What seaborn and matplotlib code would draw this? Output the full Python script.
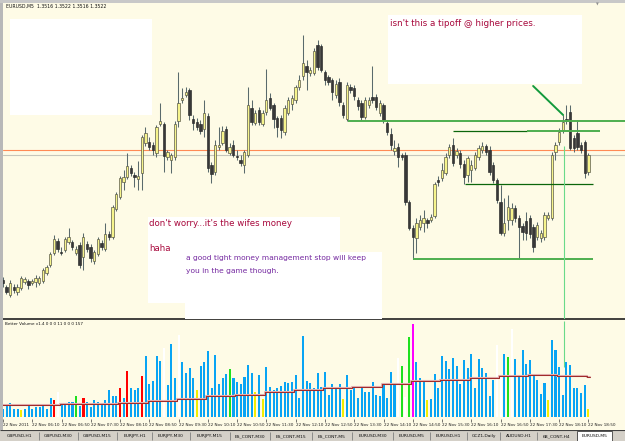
import numpy as np
import pandas as pd
import seaborn as sns
import matplotlib.pyplot as plt
from matplotlib.patches import Rectangle

# EURUSD M5, 22 Nov 2011, 05:30 .. 18:50 (161 bars)
open_ = [1.34720, 1.34692, 1.34660, 1.34692, 1.34672, 1.34688, 1.34712, 1.34716, 1.34708, 1.34712,
         1.34708, 1.34716, 1.34748, 1.34780, 1.34828, 1.34876, 1.34832, 1.34840, 1.34872, 1.34872,
         1.34828, 1.34860, 1.34812, 1.34864, 1.34852, 1.34796, 1.34824, 1.34868, 1.34844, 1.34904,
         1.34892, 1.35004, 1.35052, 1.35112, 1.35132, 1.35168, 1.35140, 1.35124, 1.35148, 1.35268,
         1.35272, 1.35260, 1.35228, 1.35344, 1.35344, 1.35212, 1.35200, 1.35212, 1.35356, 1.35440,
         1.35460, 1.35480, 1.35364, 1.35352, 1.35344, 1.35324, 1.35376, 1.35180, 1.35152, 1.35252,
         1.35268, 1.35324, 1.35228, 1.35260, 1.35216, 1.35200, 1.35180, 1.35220, 1.35408, 1.35348,
         1.35400, 1.35344, 1.35392, 1.35448, 1.35420, 1.35368, 1.35368, 1.35312, 1.35388, 1.35424,
         1.35440, 1.35492, 1.35536, 1.35576, 1.35548, 1.35548, 1.35660, 1.35656, 1.35552, 1.35532,
         1.35520, 1.35460, 1.35512, 1.35420, 1.35364, 1.35492, 1.35488, 1.35440, 1.35428, 1.35372,
         1.35420, 1.35452, 1.35452, 1.35388, 1.35420, 1.35348, 1.35304, 1.35236, 1.35252, 1.35220,
         1.35220, 1.35032, 1.34928, 1.34888, 1.34932, 1.34948, 1.34960, 1.34960, 1.34976, 1.35120,
         1.35128, 1.35148, 1.35220, 1.35260, 1.35220, 1.35228, 1.35184, 1.35140, 1.35160, 1.35168,
         1.35212, 1.35240, 1.35256, 1.35240, 1.35180, 1.35120, 1.35032, 1.34908, 1.34960, 1.34960,
         1.35008, 1.34968, 1.34936, 1.34956, 1.34968, 1.34932, 1.34892, 1.34888, 1.34892, 1.34968,
         1.34968, 1.35232, 1.35272, 1.35320, 1.35364, 1.35392, 1.35288, 1.35308, 1.35260, 1.35272,
         1.35152]
high = [1.34732, 1.34700, 1.34720, 1.34704, 1.34704, 1.34736, 1.34732, 1.34724, 1.34724, 1.34740,
        1.34736, 1.34768, 1.34780, 1.34832, 1.34900, 1.34888, 1.34852, 1.34892, 1.34928, 1.34880,
        1.34856, 1.34872, 1.34908, 1.34876, 1.34864, 1.34840, 1.34892, 1.34880, 1.34948, 1.34916,
        1.35020, 1.35072, 1.35136, 1.35160, 1.35228, 1.35180, 1.35152, 1.35196, 1.35300, 1.35332,
        1.35292, 1.35272, 1.35340, 1.35428, 1.35352, 1.35240, 1.35228, 1.35356, 1.35552, 1.35488,
        1.35492, 1.35488, 1.35380, 1.35368, 1.35360, 1.35440, 1.35388, 1.35192, 1.35280, 1.35332,
        1.35336, 1.35336, 1.35268, 1.35280, 1.35240, 1.35220, 1.35240, 1.35492, 1.35440, 1.35400,
        1.35412, 1.35400, 1.35564, 1.35468, 1.35428, 1.35376, 1.35380, 1.35420, 1.35452, 1.35460,
        1.35500, 1.35540, 1.35700, 1.35600, 1.35572, 1.35648, 1.35680, 1.35664, 1.35560, 1.35540,
        1.35528, 1.35520, 1.35528, 1.35432, 1.35512, 1.35504, 1.35500, 1.35452, 1.35440, 1.35452,
        1.35452, 1.35576, 1.35464, 1.35440, 1.35428, 1.35360, 1.35328, 1.35280, 1.35268, 1.35228,
        1.35232, 1.35040, 1.34940, 1.34968, 1.34980, 1.35000, 1.34968, 1.34984, 1.35112, 1.35136,
        1.35188, 1.35228, 1.35264, 1.35288, 1.35248, 1.35240, 1.35200, 1.35216, 1.35200, 1.35232,
        1.35260, 1.35272, 1.35264, 1.35256, 1.35192, 1.35128, 1.35100, 1.35048, 1.35060, 1.35028,
        1.35020, 1.34980, 1.34948, 1.34992, 1.34980, 1.34944, 1.34952, 1.34920, 1.34992, 1.34992,
        1.35232, 1.35272, 1.35328, 1.35380, 1.35420, 1.35420, 1.35300, 1.35360, 1.35272, 1.35280,
        1.35228]
low = [1.34692, 1.34664, 1.34652, 1.34668, 1.34660, 1.34680, 1.34704, 1.34684, 1.34700, 1.34692,
       1.34700, 1.34708, 1.34740, 1.34772, 1.34820, 1.34832, 1.34820, 1.34832, 1.34864, 1.34840,
       1.34820, 1.34768, 1.34760, 1.34832, 1.34792, 1.34784, 1.34816, 1.34840, 1.34836, 1.34880,
       1.34884, 1.34996, 1.35044, 1.35080, 1.35124, 1.35136, 1.35092, 1.35080, 1.35080, 1.35256,
       1.35240, 1.35220, 1.35212, 1.35336, 1.35152, 1.35200, 1.35148, 1.35200, 1.35332, 1.35428,
       1.35452, 1.35360, 1.35320, 1.35320, 1.35304, 1.35292, 1.35152, 1.35108, 1.35140, 1.35240,
       1.35260, 1.35232, 1.35220, 1.35212, 1.35200, 1.35176, 1.35148, 1.35212, 1.35340, 1.35340,
       1.35340, 1.35336, 1.35380, 1.35400, 1.35328, 1.35292, 1.35288, 1.35300, 1.35380, 1.35400,
       1.35428, 1.35480, 1.35520, 1.35480, 1.35536, 1.35540, 1.35560, 1.35552, 1.35500, 1.35500,
       1.35440, 1.35448, 1.35416, 1.35368, 1.35356, 1.35468, 1.35440, 1.35400, 1.35360, 1.35364,
       1.35408, 1.35428, 1.35400, 1.35376, 1.35348, 1.35300, 1.35240, 1.35220, 1.35172, 1.35200,
       1.35020, 1.34920, 1.34804, 1.34828, 1.34920, 1.34912, 1.34928, 1.34952, 1.34968, 1.35096,
       1.35116, 1.35140, 1.35208, 1.35176, 1.35208, 1.35168, 1.35104, 1.35112, 1.35112, 1.35160,
       1.35200, 1.35228, 1.35220, 1.35140, 1.35108, 1.35028, 1.34900, 1.34896, 1.34920, 1.34940,
       1.34952, 1.34804, 1.34880, 1.34880, 1.34888, 1.34832, 1.34880, 1.34872, 1.34880, 1.34960,
       1.34960, 1.35200, 1.35260, 1.35308, 1.35344, 1.35240, 1.35232, 1.35240, 1.35228, 1.35128,
       1.35140]
close = [1.34708, 1.34672, 1.34708, 1.34680, 1.34692, 1.34728, 1.34724, 1.34700, 1.34716, 1.34728,
         1.34728, 1.34760, 1.34772, 1.34824, 1.34884, 1.34844, 1.34828, 1.34884, 1.34892, 1.34852,
         1.34844, 1.34780, 1.34892, 1.34844, 1.34808, 1.34832, 1.34884, 1.34852, 1.34904, 1.34892,
         1.35012, 1.35064, 1.35128, 1.35132, 1.35176, 1.35148, 1.35132, 1.35136, 1.35292, 1.35308,
         1.35252, 1.35240, 1.35332, 1.35356, 1.35216, 1.35232, 1.35220, 1.35344, 1.35428, 1.35448,
         1.35472, 1.35380, 1.35348, 1.35332, 1.35316, 1.35388, 1.35168, 1.35144, 1.35260, 1.35260,
         1.35316, 1.35240, 1.35252, 1.35220, 1.35212, 1.35188, 1.35232, 1.35420, 1.35352, 1.35388,
         1.35352, 1.35388, 1.35440, 1.35408, 1.35364, 1.35332, 1.35320, 1.35408, 1.35440, 1.35448,
         1.35492, 1.35520, 1.35588, 1.35552, 1.35560, 1.35636, 1.35572, 1.35560, 1.35520, 1.35512,
         1.35472, 1.35504, 1.35432, 1.35380, 1.35500, 1.35480, 1.35456, 1.35416, 1.35372, 1.35440,
         1.35440, 1.35440, 1.35412, 1.35428, 1.35360, 1.35312, 1.35260, 1.35248, 1.35212, 1.35212,
         1.35032, 1.34928, 1.34892, 1.34948, 1.34960, 1.34968, 1.34948, 1.34972, 1.35104, 1.35112,
         1.35160, 1.35212, 1.35252, 1.35188, 1.35236, 1.35184, 1.35132, 1.35208, 1.35180, 1.35220,
         1.35248, 1.35256, 1.35232, 1.35152, 1.35120, 1.35040, 1.34908, 1.34948, 1.35012, 1.35008,
         1.34968, 1.34932, 1.34912, 1.34908, 1.34904, 1.34852, 1.34940, 1.34908, 1.34980, 1.34980,
         1.35220, 1.35260, 1.35312, 1.35352, 1.35356, 1.35248, 1.35248, 1.35252, 1.35240, 1.35148,
         1.35220]

# Better Volume indicator
volume = [160, 220, 280, 160, 160, 140, 160, 220, 160, 200,
          200, 220, 160, 380, 340, 500, 260, 280, 300, 300,
          420, 220, 380, 300, 200, 340, 300, 260, 340, 540,
          420, 420, 580, 380, 920, 580, 540, 580, 820, 1220,
          660, 720, 1220, 1120, 1380, 640, 1460, 780, 1640, 1100,
          880, 980, 780, 540, 1020, 1100, 1320, 580, 1240, 660,
          780, 860, 960, 780, 700, 660, 800, 1040, 880, 500,
          840, 360, 1000, 600, 540, 580, 620, 700, 680, 700,
          840, 380, 1620, 720, 680, 580, 880, 600, 900, 440,
          660, 580, 660, 360, 840, 540, 600, 380, 600, 500,
          500, 700, 440, 420, 660, 380, 900, 640, 1180, 1020,
          400, 1600, 1860, 1100, 780, 720, 340, 360, 860, 580,
          1220, 1120, 960, 1180, 1020, 660, 1140, 980, 1260, 580,
          1160, 980, 880, 420, 740, 1440, 800, 1260, 1200, 1760,
          1160, 820, 1340, 1060, 1140, 820, 740, 460, 680, 340,
          1540, 1340, 1000, 440, 1100, 1040, 580, 580, 480, 640,
          157]
vol_flags = {5: 'low', 14: 'climax', 15: 'white', 20: 'churn', 22: 'climax',
             32: 'climax', 34: 'climax', 38: 'climax', 44: 'white', 48: 'white',
             53: 'low', 62: 'churn', 69: 'low', 71: 'low', 93: 'low',
             108: 'white', 109: 'churn', 110: 'white', 111: 'churn', 112: 'climax_churn',
             116: 'low', 135: 'white', 136: 'white', 138: 'churn', 139: 'white',
             149: 'low', 160: 'low'}
vol_avg = [250, 250, 260, 270, 290, 330, 360, 420, 450, 500, 550,
           590, 610, 660, 720, 750, 790, 820, 850, 830, 810]  # one value per 8 bars

bid = 1.35220
ask = 1.35240

# drawn objects (price, from bar, to bar)
hl_price = [1.35356, 1.35316, 1.35316, 1.35104, 1.34804]
hl_from = [94.3, 123.0, 143.3, 126.3, 112.0]
hl_to = [170.0, 143.3, 163.2, 161.3, 161.3]
hl_kind = ['light', 'dark', 'light', 'dark', 'light']
trend_bar = [144.9, 153.1]
trend_price = [1.35496, 1.35380]
vline_bar = 153.4
vline_price = 1.35256
vline_vol = 1000

time_labels = ['22 Nov 2011', '22 Nov 06:10', '22 Nov 06:50', '22 Nov 07:30', '22 Nov 08:10',
               '22 Nov 08:50', '22 Nov 09:30', '22 Nov 10:10', '22 Nov 10:50', '22 Nov 11:30',
               '22 Nov 12:10', '22 Nov 12:50', '22 Nov 13:30', '22 Nov 14:10', '22 Nov 14:50',
               '22 Nov 15:30', '22 Nov 16:10', '22 Nov 16:50', '22 Nov 17:30', '22 Nov 18:10',
               '22 Nov 18:50']
tabs = ['GBPUSD,H1', 'GBPUSD,M30', 'GBPUSD,M15', 'EURJPY,H1', 'EURJPY,M30', 'EURJPY,M15',
        'ES_CONT,M30', 'ES_CONT,M15', 'ES_CONT,M5', 'EURUSD,M30', 'EURUSD,M5', 'EURUSD,H1',
        'GCZ1,Daily', 'AUDUSD,H1', '6B_CONT,H4', 'EURUSD,M5']
tab_edges = [0, 39, 78, 117, 152, 190, 230, 270, 312, 352, 393, 430, 467, 500, 537, 577, 612]

bg = '#fefbe6'
sns.set_style('white', {'axes.facecolor': bg, 'figure.facecolor': bg})
plt.rcParams['font.family'] = ['DejaVu Sans']

W, H = 625, 441
fig = plt.figure(figsize=(W / 100, H / 100), dpi=100)


def fbox(x0, y0, x1, y1):
    # pixel box from the top-left corner -> figure fractions
    return [x0 / W, 1 - y1 / H, (x1 - x0) / W, (y1 - y0) / H]


ax = fig.add_axes(fbox(3, 3, 625, 319))
axv = fig.add_axes(fbox(3, 321, 625, 419))
axt = fig.add_axes(fbox(0, 430, 625, 441))

df = pd.DataFrame({'open': open_, 'high': high, 'low': low, 'close': close, 'volume': volume})
df['bar'] = np.arange(len(df))
n = len(df)

# =============================================================================
# candles
# =============================================================================
up = df['close'] >= df['open']
body_lo = df[['open', 'close']].min(axis=1)
body_h = (df['close'] - df['open']).abs().clip(lower=0.00003)
ax.vlines(df['bar'], df['low'], df['high'], color='#5a6a6c', lw=0.75, zorder=2)
ax.bar(df['bar'][up], body_h[up], bottom=body_lo[up], width=0.64,
       color='#f6f48c', edgecolor='#4a4a40', linewidth=0.45, zorder=3)
ax.bar(df['bar'][~up], body_h[~up], bottom=body_lo[~up], width=0.64,
       color='#383838', edgecolor='#282828', linewidth=0.45, zorder=3)

ax.axhline(ask, color='#ff8a55', lw=0.8, zorder=1)
ax.axhline(bid, color='#c6c6bc', lw=0.8, zorder=1)

for p, a, b, k in zip(hl_price, hl_from, hl_to, hl_kind):
    if k == 'light':
        ax.hlines(p, a, b, color='#4eae4e', lw=1.4, zorder=4)
    else:
        ax.hlines(p, a, b, color='#0b660b', lw=0.9, zorder=4)
ax.plot(trend_bar, trend_price, color='#129a3c', lw=1.4, zorder=4)

ax.set_xlim(0.08, 170)
ax.set_ylim(1.34564, 1.35828)
ax.vlines(vline_bar, 1.34564, vline_price, color='#6ada8a', lw=0.8, zorder=4)
ax.set_xticks([])
ax.set_yticks([])
for s in ['top', 'left', 'right']:
    ax.spines[s].set_visible(False)
ax.spines['bottom'].set_color('#202020')
ax.spines['bottom'].set_linewidth(1.2)

# =============================================================================
# volume panel
# =============================================================================
kind_colors = {'normal': '#08a4f4', 'low': '#f2ee00', 'climax': '#ff0000',
               'churn': '#1ee01e', 'climax_churn': '#ff00ff', 'white': '#ffffff'}
bar_colors = [kind_colors[vol_flags.get(i, 'normal')] for i in range(n)]
axv.bar(df['bar'], df['volume'], width=0.56, color=bar_colors, edgecolor='none',
        linewidth=0, zorder=2)

avg_df = pd.DataFrame({'bar': [b - 0.5 for b in range(0, n, 8)] + [n - 0.5],
                       'avg': vol_avg + [vol_avg[-1]]})
sns.lineplot(data=avg_df, x='bar', y='avg', drawstyle='steps-post', color='#e2b0b0',
             lw=1.5, ax=axv, legend=False, zorder=3)
sns.lineplot(data=avg_df, x='bar', y='avg', drawstyle='steps-post', color='#a02c2c',
             lw=0.75, ax=axv, legend=False, zorder=4)
axv.vlines(vline_bar, vline_vol, 1920, color='#6ada8a', lw=0.8, zorder=4)

axv.set_xlim(0.08, 170)
axv.set_ylim(-40, 1920)
axv.set_yticks([])
axv.set_xticks(list(range(0, n, 8)))
axv.set_xticklabels(time_labels, fontsize=3.0, ha='left', color='#202020')
axv.tick_params(axis='x', length=2, width=0.5, pad=0.8, direction='out', color='#404040', bottom=True)
axv.set_xlabel('')
axv.set_ylabel('')
for s in ['top', 'left', 'right', 'bottom']:
    axv.spines[s].set_visible(False)

# =============================================================================
# tab bar
# =============================================================================
axt.set_xlim(0, W)
axt.set_ylim(11, 0)
axt.axis('off')
axt.add_patch(Rectangle((0, 0), W, 11, color='#d4d0c8', zorder=0))
axt.hlines(0.3, 0, W, color='#404040', lw=0.8)
axt.vlines(tab_edges[1:-1], 2, 10, color='#808080', lw=0.6)
axt.add_patch(Rectangle((tab_edges[-2], 0.5), tab_edges[-1] - tab_edges[-2], 10,
                        facecolor='#ffffff', edgecolor='#404040', lw=0.6, zorder=2))
for i, t in enumerate(tabs):
    axt.text((tab_edges[i] + tab_edges[i + 1]) / 2, 6, t, fontsize=3.2,
             ha='center', va='center', color='#101010', zorder=3)

# =============================================================================
# window frame, labels and text boxes
# =============================================================================
fig.patches.append(Rectangle((0, 1 - 3 / H), 1, 3 / H, transform=fig.transFigure,
                             facecolor='#c8c8c8', edgecolor='none'))
fig.patches.append(Rectangle((0, 1 - 430 / H), 3 / W, 427 / H, transform=fig.transFigure,
                             facecolor='#b8b8b8', edgecolor='none'))

fig.text(6 / W, 1 - 6.5 / H, 'EURUSD,M5  1.3516 1.3522 1.3516 1.3522', fontsize=3.3,
         va='center', color='#101010')
fig.text(5 / W, 1 - 324 / H, 'Better Volume v1.4 0 0 0 11 0 0 0 157', fontsize=3.0,
         va='center', color='#101010')
fig.text(597 / W, 1 - 4 / H, '\u25bc', fontsize=2.6, ha='center', va='center', color='#909090')

for x0, y0, x1, y1 in [(10, 19, 152, 115), (388, 15, 582, 84), (148, 217, 340, 303), (185, 252, 382, 319)]:
    fig.patches.append(Rectangle((x0 / W, 1 - y1 / H), (x1 - x0) / W, (y1 - y0) / H,
                                 transform=fig.transFigure, facecolor='white', edgecolor='none'))

red = '#a8083c'
purple = '#7428a0'
notes = [("isn't this a tipoff @ higher prices.", 390, 23, red, 6.3),
         ("don't worry...it's the wifes money", 149, 224, red, 6.2),
         ("haha", 149, 249, red, 6.2),
         ("a good tight money management stop will keep", 186, 258, purple, 5.4),
         ("you in the game though.", 186, 271, purple, 5.4)]
for t, x, y, c, fs in notes:
    fig.text(x / W, 1 - y / H, t, fontsize=fs, color=c, va='center', ha='left')

fig.savefig('out.png', dpi=100, facecolor=bg)
